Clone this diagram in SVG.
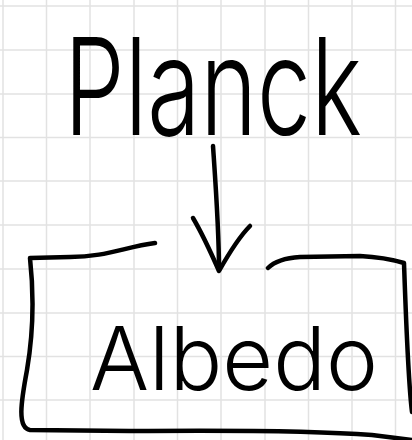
<svg xmlns="http://www.w3.org/2000/svg" width="412" height="440" viewBox="0 0 412 440">
<style>
.grid line{stroke:#e2e2e2;stroke-width:1.5}
.ink{fill:none;stroke:#000;stroke-width:4.5;stroke-linecap:round;stroke-linejoin:round}
.hand{font-family:Inter,"Liberation Sans",sans-serif;font-weight:300;fill:#000}
</style>
<rect width="412" height="440" fill="#fff"/>
<g class="grid">
<line x1="3" y1="0" x2="3" y2="440"/><line x1="46.5" y1="0" x2="46.5" y2="440"/><line x1="90" y1="0" x2="90" y2="440"/><line x1="134" y1="0" x2="134" y2="440"/><line x1="177.5" y1="0" x2="177.5" y2="440"/><line x1="221" y1="0" x2="221" y2="440"/><line x1="265" y1="0" x2="265" y2="440"/><line x1="308.5" y1="0" x2="308.5" y2="440"/><line x1="352" y1="0" x2="352" y2="440"/><line x1="395.5" y1="0" x2="395.5" y2="440"/>
<line x1="0" y1="6" x2="412" y2="6"/><line x1="0" y1="50" x2="412" y2="50"/><line x1="0" y1="94" x2="412" y2="94"/><line x1="0" y1="137.5" x2="412" y2="137.5"/><line x1="0" y1="181" x2="412" y2="181"/><line x1="0" y1="225" x2="412" y2="225"/><line x1="0" y1="269" x2="412" y2="269"/><line x1="0" y1="313" x2="412" y2="313"/><line x1="0" y1="356.5" x2="412" y2="356.5"/><line x1="0" y1="400" x2="412" y2="400"/>
</g>
<g id="planck">
<text class="hand" transform="translate(64,135) scale(1,1.3)" x="0" y="0" font-size="104" textLength="298" lengthAdjust="spacingAndGlyphs">Planck</text>
</g>
<g id="albedo">
<path class="ink" d="M155,243 C125,247 105,257 70,257 L30,258 C34,295 33,335 27,370 C21,402 17,428 30,430 L130,431 C240,430 320,431 372,435 L412,440"/>
<path class="ink" d="M268,268 C274,262 284,258 300,257 L360,256 C380,257 394,260 404,263 C406,320 408,380 412,412"/>
<text class="hand" x="90" y="390" font-size="88" textLength="288" lengthAdjust="spacingAndGlyphs">Albedo</text>
</g>
<g id="connectors">
<path class="ink" d="M213,146 C216,190 219,230 219,270"/>
<path class="ink" d="M193,218 C203,235 212,255 219,271 C228,255 238,238 250,226"/>
</g>
</svg>
